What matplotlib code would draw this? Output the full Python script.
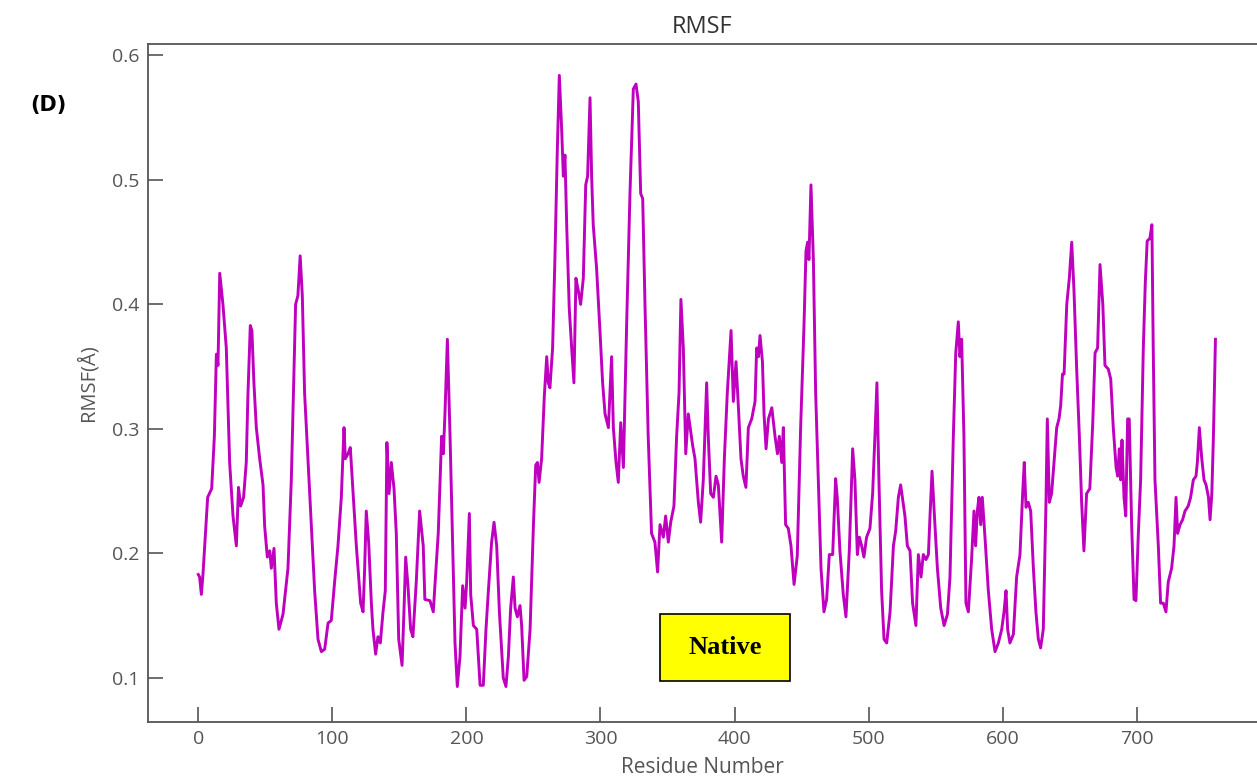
import matplotlib
matplotlib.use('Agg')
import matplotlib.pyplot as plt
from matplotlib.patches import Rectangle

plt.rcParams['font.family'] = ['Open Sans', 'DejaVu Sans']

# Residue number vs RMSF
residue = [0, 1, 2.3, 3.5, 7, 10, 12, 13.5, 14.7, 16, 18.4, 20.9, 23.4, 25.9, 28.4, 30, 31.6, 33.8, 35.8, 37,
           38.8, 40, 41.5, 43.3, 45.8, 48.3, 49.5, 51.5, 53.3, 54.5, 56.5, 58.2, 60.2, 63.2, 66.9, 69.4, 72.6,
           74.3, 76, 77.6, 79.3, 81.8, 84.3, 86.8, 89.3, 91.8, 94.3, 96.8, 99.2, 101.7, 104.2, 106.7, 108.7,
           109.7, 111.7, 113.4, 114.9, 117.9, 121.1, 122.9, 124.1, 125.3, 127.1, 129.1, 130.3, 132.3, 134,
           135.8, 137.8, 139.5, 140.7, 142.3, 144, 146, 147.7, 149.5, 152, 153.4, 154.7, 156.4, 158.4, 160.1,
           162.6, 165.1,
           167.8, 169, 172.8, 175.3, 176.5, 179, 181.5, 182.8, 184, 185.8, 187.8, 190.2, 191.5, 193.2, 195.2,
           197.2, 199, 200.2, 202.2, 203.2, 205.2, 207.7, 210.2, 212.6, 214.6, 216.4, 218.8, 220.6, 222.6,
           224.6, 227.5, 229.5, 231.3, 233, 235, 236.3, 238, 240, 241.2, 243, 245, 247.5, 250, 251.7, 253,
           254.2, 256.1, 258.1, 259.9, 261.1, 262.3, 264.3, 266, 267.8, 269.3, 271, 272.3, 273.5, 274.8, 276.7,
           278.5, 280.2, 281.7, 283.5, 285.2, 287.2, 289, 290.4, 292.2, 293.4, 294.6, 297.1, 299.6, 301.6,
           303.4, 305.9, 308.3, 309.6, 311.6, 313.3, 315.1, 317.1, 319.5, 322, 324.5, 326.5, 328.2, 330, 331.5,
           333.2, 335.6, 338.1, 340.6, 342.6, 344.4, 346.9, 348.6, 350.6, 352.4, 354.8, 356.8, 358.6, 360,
           361.8, 363.6, 365.5,
           368.7, 370.5, 373, 374.7, 376.7, 379.2, 380.4, 382.2, 384.2, 386.2, 387.9, 390.4, 392.4, 394.6,
           397.4, 399.1, 401.1, 402.8, 404.8, 406.5, 408.5, 410.3, 412.8, 415.3, 416.5, 417.8, 419, 420.8, 422,
           423.5, 425.3, 427.8, 430.2, 432, 433.4, 435.2, 436.4, 438.1, 440.1, 442.1, 444.4, 446.8, 449.3,
           451.8, 453.3, 454.5, 455.5, 457, 458.8, 460.5, 462.5, 464.5, 466.7, 468.7, 470.7, 473.2, 475.4,
           476.6, 478.6, 481.1, 483.1, 485.6, 488.1, 489.8, 491.6, 493.1, 494.8, 496.5, 498.5, 501, 503, 504.7,
           506.2, 507.7, 509.7, 511.5, 513.5, 516, 518.5, 520.2, 522.2, 523.9, 525.2, 527.1, 528.9, 530.9,
           532.8, 535.3, 537.1, 539.1, 540.8, 542.8, 544.6, 545.8, 547.3, 549.1, 551.3, 553.8, 556.3, 558.8,
           560.7, 563.2, 565, 566.9, 568.1, 569.4,
           571.1, 572.6, 574.4, 576.8, 578.6, 579.8, 581.1, 582.3, 583.6, 584.8, 586.8, 589.3, 591.8, 594.3,
           596.8, 599.3, 601, 602.5, 603.7, 605.4, 608, 610.4, 612.9, 614.9, 616.1, 617.4, 619.1, 620.9, 622.9,
           624.8, 626.6, 628.3, 630.3, 632.3, 633.3, 634.8, 636.5, 638.3, 640.3, 642, 643.3, 644.6, 645.8,
           647.8, 649.7, 651.5, 653.2, 655.2, 657.2, 658.9, 660.6, 662.6, 665, 667.2, 668.9, 670.8, 672.6,
           674.7, 676.3, 678.8, 680.6, 682.5, 684.6, 685.8, 687, 688, 689, 690.5, 691.8, 693.2, 694.4, 696.2,
           698, 699.4, 701.2, 702.9, 704.9, 706.4, 707.8, 709.8, 711.3, 712.3, 713.6, 716.1, 717.8, 719.8,
           721.8, 723.5, 726, 727.8, 729.3, 730.5, 732.3, 734.2, 736, 738.4, 740.2, 742.2, 744.2, 745.2, 746.7,
           748.5, 750.2, 751.7, 753.5, 754.7, 756, 757.2, 758.7]

rmsf = [0.183, 0.181, 0.167, 0.183, 0.245, 0.252, 0.294, 0.360, 0.351, 0.425, 0.400, 0.365, 0.273, 0.230, 0.206,
        0.253, 0.238, 0.245, 0.273, 0.326, 0.383, 0.379, 0.337, 0.301, 0.276, 0.255, 0.222, 0.197, 0.202, 0.188,
        0.204, 0.160, 0.139, 0.151, 0.188, 0.259, 0.400, 0.407, 0.439, 0.407, 0.329, 0.276, 0.223, 0.170, 0.131,
        0.121, 0.123, 0.144, 0.146, 0.177, 0.206, 0.245, 0.301, 0.276, 0.280, 0.285, 0.259, 0.206, 0.160, 0.153,
        0.188, 0.234, 0.209, 0.160, 0.139, 0.119, 0.133, 0.128, 0.153, 0.170, 0.289, 0.248, 0.273, 0.252, 0.216,
        0.131, 0.110, 0.153, 0.197, 0.174, 0.139, 0.133, 0.177, 0.234,
        0.206, 0.163, 0.162, 0.153, 0.174, 0.216, 0.294, 0.280, 0.312, 0.372, 0.294, 0.188, 0.128, 0.093, 0.117,
        0.174, 0.156, 0.177, 0.232, 0.167, 0.142, 0.139, 0.094, 0.094, 0.139, 0.170, 0.209, 0.225, 0.206, 0.153,
        0.100, 0.093, 0.117, 0.156, 0.181, 0.156, 0.149, 0.158, 0.142, 0.098, 0.101, 0.139, 0.223, 0.271, 0.273,
        0.257, 0.276, 0.326, 0.358, 0.337, 0.333, 0.365, 0.436, 0.524, 0.584, 0.542, 0.503, 0.520, 0.464, 0.397,
        0.365, 0.337, 0.421, 0.411, 0.400, 0.421, 0.496, 0.503, 0.566, 0.503, 0.464, 0.429, 0.379, 0.337, 0.312,
        0.301, 0.358, 0.301, 0.273, 0.257, 0.305, 0.269, 0.383, 0.489, 0.573, 0.577, 0.563, 0.489, 0.485, 0.400,
        0.294, 0.216, 0.209, 0.185, 0.223, 0.213, 0.230, 0.209, 0.225, 0.238, 0.294, 0.329, 0.404, 0.365, 0.280,
        0.312,
        0.287, 0.276, 0.241, 0.225, 0.259, 0.337, 0.294, 0.248, 0.245, 0.262, 0.255, 0.209, 0.276, 0.329, 0.379,
        0.322, 0.354, 0.319, 0.276, 0.262, 0.253, 0.301, 0.308, 0.322, 0.365, 0.358, 0.375, 0.354, 0.312, 0.284,
        0.308, 0.317, 0.294, 0.280, 0.294, 0.273, 0.301, 0.223, 0.220, 0.206, 0.175, 0.198, 0.301, 0.383, 0.443,
        0.450, 0.436, 0.496, 0.436, 0.329, 0.259, 0.188, 0.153, 0.163, 0.199, 0.199, 0.260, 0.245, 0.202, 0.167,
        0.149, 0.202, 0.284, 0.259, 0.199, 0.213, 0.206, 0.197, 0.213, 0.220, 0.248, 0.294, 0.337, 0.259, 0.170,
        0.131, 0.128, 0.153, 0.206, 0.218, 0.245, 0.255, 0.245, 0.230, 0.206, 0.202, 0.160, 0.142, 0.199, 0.181,
        0.199, 0.195, 0.199, 0.230, 0.266, 0.230, 0.188, 0.156, 0.142, 0.151, 0.181, 0.294, 0.361, 0.386, 0.358,
        0.372,
        0.294, 0.160, 0.153, 0.195, 0.234, 0.206, 0.234, 0.245, 0.223, 0.245, 0.213, 0.170, 0.139, 0.121, 0.128,
        0.139, 0.153, 0.170, 0.139, 0.128, 0.135, 0.181, 0.199, 0.248, 0.273, 0.237, 0.241, 0.234, 0.188, 0.153,
        0.131, 0.124, 0.139, 0.241, 0.308, 0.241, 0.248, 0.273, 0.301, 0.308, 0.319, 0.344, 0.344, 0.400, 0.421,
        0.450, 0.411, 0.348, 0.294, 0.241, 0.202, 0.248, 0.252, 0.305, 0.361, 0.365, 0.432, 0.400, 0.351, 0.348,
        0.340, 0.301, 0.269, 0.262, 0.284, 0.259, 0.291, 0.245, 0.230, 0.308, 0.308, 0.223, 0.163, 0.162, 0.216,
        0.259, 0.365, 0.418, 0.451, 0.453, 0.464, 0.365, 0.259, 0.206, 0.160, 0.160, 0.153, 0.177, 0.188, 0.206,
        0.245, 0.216, 0.223, 0.227, 0.234, 0.238, 0.245, 0.259, 0.262, 0.273, 0.301, 0.276, 0.259, 0.255, 0.245,
        0.227, 0.248, 0.294, 0.372]

xticks = [0, 100, 200, 300, 400, 500, 600, 700]
yticks = [0.1, 0.2, 0.3, 0.4, 0.5, 0.6]

W, H = 1257, 778
fig = plt.figure(figsize=(W / 100, H / 100), dpi=100)
ax = fig.add_axes([148 / W, 56 / H, 1 - 148 / W, 678 / H])

grey = '#555555'
ax.plot(residue, rmsf, color='#BF00BF', linewidth=2.1)

ax.set_xlim(-37.5, 789.7)
ax.set_ylim(0.0645, 0.6092)
ax.set_xticks(xticks)
ax.set_yticks(yticks)
ax.set_yticklabels([f"{v:.1f}" for v in yticks])
ax.tick_params(direction='in', length=11, width=1.2, colors=grey, labelsize=14, pad=6)
ax.tick_params(axis='x', pad=6)
for s in ['left', 'top', 'bottom']:
    ax.spines[s].set_color(grey)
    ax.spines[s].set_linewidth(1.3)
ax.spines['right'].set_visible(False)

ax.set_title("RMSF", fontsize=17, color='#333333', pad=8)
ax.set_xlabel("Residue Number", fontsize=15, color=grey, labelpad=6)
ax.set_ylabel("RMSF(Å)", fontsize=14.5, color=grey, labelpad=10)

fig.text(30 / W, 1 - 105 / H, "(D)", fontsize=15, fontweight='bold', family='DejaVu Sans',
         va='center', ha='left')

# yellow "Native" label box
fig.patches.append(Rectangle((660 / W, 1 - 681 / H), 130 / W, 67 / H, transform=fig.transFigure,
                             facecolor='#FFFF00', edgecolor='black', linewidth=1.2, zorder=5))
fig.text(725 / W, 1 - 647 / H, "Native", fontsize=19, fontweight='bold', family='Liberation Serif',
         ha='center', va='center', zorder=6)

plt.savefig("out.png", dpi=100)
